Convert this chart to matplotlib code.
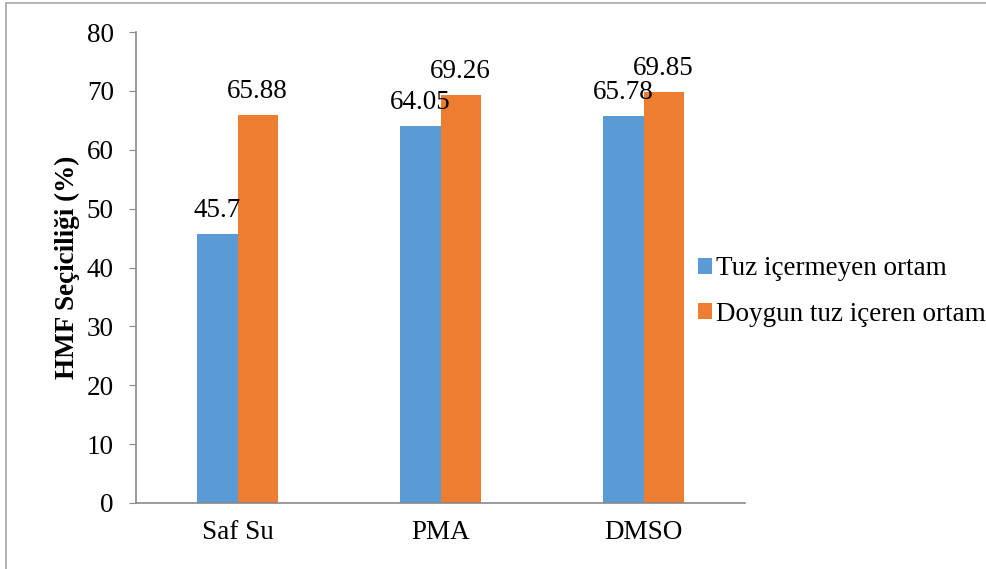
import matplotlib
matplotlib.use("Agg")
import matplotlib.pyplot as plt
import numpy as np
from matplotlib.patches import Rectangle

categories = ["Saf Su", "PMA", "DMSO"]
tuzsuz = [45.7, 64.05, 65.78]
doygun = [65.88, 69.26, 69.85]
tuzsuz_labels = ["45.7", "64.05", "65.78"]
doygun_labels = ["65.88", "69.26", "69.85"]

BLUE = "#5B9BD5"
ORANGE = "#ED7D31"
AXIS_GRAY = "#898989"
FS = 19.5

plt.rcParams["font.family"] = ["Liberation Serif", "DejaVu Serif"]

fig = plt.figure(figsize=(9.86, 5.69), dpi=100)
ax = fig.add_axes([136 / 986, 1 - 503 / 569, (745 - 136) / 986, (503 - 32) / 569])

x = np.arange(len(categories))
w = 0.198
b1 = ax.bar(x - w / 2, tuzsuz, w, color=BLUE, label="Tuz içermeyen ortam")
b2 = ax.bar(x + w / 2, doygun, w, color=ORANGE, label="Doygun tuz içeren ortam")

for bars, labels in ((b1, tuzsuz_labels), (b2, doygun_labels)):
    for rect, lab in zip(bars, labels):
        ax.annotate(lab, (rect.get_x() + rect.get_width() / 2, rect.get_height()),
                    xytext=(0, 8), textcoords="offset points",
                    ha="center", va="bottom", fontsize=FS)

ax.set_xlim(-0.5, 2.5)
ax.set_ylim(0, 80)
ax.set_yticks(range(0, 81, 10))
ax.set_xticks(x)
ax.set_xticklabels(categories)
ax.tick_params(axis="y", labelsize=FS, direction="out", length=5, color=AXIS_GRAY, pad=11)
ax.tick_params(axis="x", labelsize=FS, length=0, pad=12)

for side in ("top", "right"):
    ax.spines[side].set_visible(False)
for side in ("left", "bottom"):
    ax.spines[side].set_color(AXIS_GRAY)
    ax.spines[side].set_linewidth(1.2)

ax.set_ylabel("HMF Seçiciliği (%)", fontsize=FS, fontweight="bold", labelpad=5)

fig.legend(loc="center left", bbox_to_anchor=(698 / 986, 1 - 291.5 / 569), frameon=False,
           fontsize=FS, handlelength=0.52, handleheight=0.52, handletextpad=0.15,
           labelspacing=0.76, borderpad=0, borderaxespad=0)

# thin frame around the whole chart area
fig.patches.append(Rectangle((6 / 986, -0.01), 1.02, 1 - 3 / 569 + 0.01,
                             transform=fig.transFigure, fill=False,
                             edgecolor="#A6A6A6", linewidth=1.2))

fig.savefig("out.png", dpi=100, facecolor="white")
